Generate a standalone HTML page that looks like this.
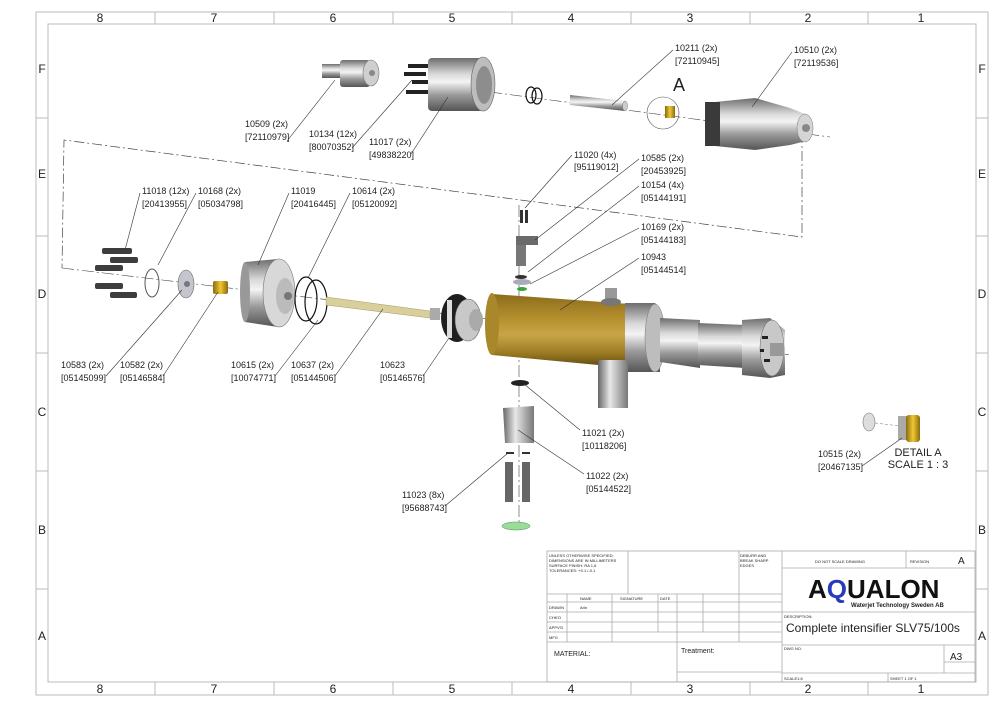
<!DOCTYPE html>
<html><head><meta charset="utf-8"><style>
html,body{margin:0;padding:0;background:#fff;}
svg{display:block;}
text{font-family:"Liberation Sans",sans-serif;fill:#222;}
.l{font-size:9px;}
.ld{stroke:#333;stroke-width:0.6;fill:none;}
.fr{stroke:#bbb;fill:none;stroke-width:1;}
.tb{stroke:#aaa;fill:none;stroke-width:0.8;}
.s{font-size:4px;fill:#555;}
</style></head><body>
<svg width="1000" height="707" viewBox="0 0 1000 707" xmlns="http://www.w3.org/2000/svg">
<defs>
<linearGradient id="st" x1="0" y1="0" x2="0" y2="1"><stop offset="0" stop-color="#6d6d6d"/><stop offset="0.3" stop-color="#d8d8d8"/><stop offset="0.45" stop-color="#f4f4f4"/><stop offset="0.7" stop-color="#9a9a9a"/><stop offset="1" stop-color="#555"/></linearGradient>
<linearGradient id="br" x1="0" y1="0" x2="0" y2="1"><stop offset="0" stop-color="#8c6c1c"/><stop offset="0.35" stop-color="#b7922f"/><stop offset="0.55" stop-color="#c9a548"/><stop offset="0.8" stop-color="#9a7a22"/><stop offset="1" stop-color="#5a4510"/></linearGradient>
<linearGradient id="stv" x1="0" y1="0" x2="1" y2="0"><stop offset="0" stop-color="#666"/><stop offset="0.4" stop-color="#e8e8e8"/><stop offset="1" stop-color="#777"/></linearGradient>
<linearGradient id="gd" x1="0" y1="0" x2="1" y2="0"><stop offset="0" stop-color="#8a6a10"/><stop offset="0.5" stop-color="#f0c830"/><stop offset="1" stop-color="#8a6a10"/></linearGradient>
</defs>
<!-- frame -->
<rect x="36" y="12" width="952" height="683" class="fr"/>
<rect x="48" y="24" width="928" height="658" class="fr"/>
<g class="fr">
<line x1="155" y1="12" x2="155" y2="24"/><line x1="274" y1="12" x2="274" y2="24"/><line x1="393" y1="12" x2="393" y2="24"/><line x1="512" y1="12" x2="512" y2="24"/><line x1="631" y1="12" x2="631" y2="24"/><line x1="750" y1="12" x2="750" y2="24"/><line x1="868" y1="12" x2="868" y2="24"/>
<line x1="155" y1="682" x2="155" y2="695"/><line x1="274" y1="682" x2="274" y2="695"/><line x1="393" y1="682" x2="393" y2="695"/><line x1="512" y1="682" x2="512" y2="695"/><line x1="631" y1="682" x2="631" y2="695"/><line x1="750" y1="682" x2="750" y2="695"/><line x1="868" y1="682" x2="868" y2="695"/>
<line x1="36" y1="118" x2="48" y2="118"/><line x1="36" y1="236" x2="48" y2="236"/><line x1="36" y1="353" x2="48" y2="353"/><line x1="36" y1="471" x2="48" y2="471"/><line x1="36" y1="589" x2="48" y2="589"/>
<line x1="976" y1="118" x2="988" y2="118"/><line x1="976" y1="236" x2="988" y2="236"/><line x1="976" y1="353" x2="988" y2="353"/><line x1="976" y1="471" x2="988" y2="471"/><line x1="976" y1="589" x2="988" y2="589"/>
</g>
<g font-size="12" text-anchor="middle">
<text x="100" y="22">8</text><text x="214" y="22">7</text><text x="333" y="22">6</text><text x="452" y="22">5</text><text x="571" y="22">4</text><text x="690" y="22">3</text><text x="808" y="22">2</text><text x="921" y="22">1</text>
<text x="100" y="693">8</text><text x="214" y="693">7</text><text x="333" y="693">6</text><text x="452" y="693">5</text><text x="571" y="693">4</text><text x="690" y="693">3</text><text x="808" y="693">2</text><text x="921" y="693">1</text>
<text x="42" y="73">F</text><text x="42" y="178">E</text><text x="42" y="298">D</text><text x="42" y="416">C</text><text x="42" y="534">B</text><text x="42" y="640">A</text>
<text x="982" y="73">F</text><text x="982" y="178">E</text><text x="982" y="298">D</text><text x="982" y="416">C</text><text x="982" y="534">B</text><text x="982" y="640">A</text>
</g>

<!-- dashed outline -->
<polyline points="802,133 802,237 64,140 62,268" fill="none" stroke="#444" stroke-width="0.7" stroke-dasharray="10,3,2,3"/>
<!-- axes -->
<line x1="62" y1="268" x2="790" y2="355" stroke="#444" stroke-width="0.6" stroke-dasharray="12,3,2,3"/>
<line x1="490" y1="92" x2="830" y2="137" stroke="#444" stroke-width="0.6" stroke-dasharray="12,3,2,3"/>
<line x1="519" y1="205" x2="519" y2="530" stroke="#444" stroke-width="0.6" stroke-dasharray="12,3,2,3"/>

<!-- top row parts -->
<rect x="322" y="64" width="22" height="14" fill="url(#st)"/>
<rect x="340" y="60" width="30" height="27" rx="3" fill="url(#st)"/>
<ellipse cx="371" cy="73" rx="8" ry="13" fill="#cfcfcf" stroke="#777" stroke-width="0.6"/>
<circle cx="372" cy="73" r="3" fill="#888"/>
<g fill="#222"><rect x="408" y="64" width="20" height="4"/><rect x="404" y="72" width="22" height="4"/><rect x="412" y="80" width="16" height="4"/><rect x="406" y="90" width="22" height="4"/></g>
<rect x="428" y="58" width="55" height="53" rx="4" fill="url(#st)"/>
<ellipse cx="483" cy="84" rx="12" ry="27" fill="#bdbdbd" stroke="#666" stroke-width="0.6"/>
<ellipse cx="484" cy="85" rx="8" ry="19" fill="#8d8d8d"/>
<ellipse cx="531" cy="95" rx="5" ry="8" fill="none" stroke="#111" stroke-width="1.2"/>
<ellipse cx="537" cy="96" rx="5" ry="8" fill="none" stroke="#111" stroke-width="1.2"/>
<path d="M570,95 L625,101 L625,111 L570,105 Z" fill="url(#st)"/>
<ellipse cx="625" cy="106" rx="2.5" ry="5" fill="#ccc" stroke="#777" stroke-width="0.5"/>
<circle cx="663" cy="113" r="16" fill="none" stroke="#555" stroke-width="0.6"/>
<rect x="665" y="106" width="10" height="12" fill="url(#gd)"/>
<text x="673" y="91" font-size="18">A</text>
<path d="M705,103 L755,98 L790,108 L810,116 L810,140 L790,145 L755,150 L705,145 Z" fill="url(#st)"/>
<rect x="705" y="102" width="15" height="44" fill="#3a3a3a"/>
<ellipse cx="805" cy="128" rx="8" ry="14" fill="#d5d5d5" stroke="#777" stroke-width="0.5"/>
<circle cx="806" cy="128" r="4" fill="#888"/>

<!-- left row parts -->
<g fill="#3d3d3d">
<rect x="102" y="248" width="30" height="6" rx="2"/><rect x="110" y="257" width="28" height="6" rx="2"/><rect x="95" y="265" width="28" height="6" rx="2"/>
<rect x="95" y="283" width="28" height="6" rx="2"/><rect x="110" y="292" width="27" height="6" rx="2"/>
</g>
<ellipse cx="152" cy="283" rx="7" ry="14" fill="none" stroke="#555" stroke-width="1"/>
<ellipse cx="186" cy="284" rx="8" ry="14" fill="#c5c5d0" stroke="#666" stroke-width="0.6"/>
<circle cx="187" cy="284" r="3" fill="#777"/>
<rect x="213" y="281" width="15" height="13" rx="2" fill="url(#gd)"/>
<path d="M245,262 L278,259 L278,327 L245,322 Z" fill="url(#st)"/>
<ellipse cx="245" cy="292" rx="5" ry="30" fill="#999"/>
<ellipse cx="279" cy="293" rx="16" ry="34" fill="#d8d8d8" stroke="#777" stroke-width="0.6"/>
<ellipse cx="285" cy="296" rx="9" ry="18" fill="#bbb"/>
<circle cx="288" cy="296" r="4" fill="#777"/>
<ellipse cx="306" cy="299" rx="11" ry="22" fill="none" stroke="#111" stroke-width="1.2"/>
<ellipse cx="316" cy="302" rx="11" ry="22" fill="none" stroke="#111" stroke-width="1.2"/>
<path d="M326,297 L430,311 L430,318 L326,305 Z" fill="#d9cf9c" stroke="#a89c60" stroke-width="0.5"/>
<rect x="430" y="308" width="10" height="12" fill="#aaa"/>
<ellipse cx="457" cy="318" rx="16" ry="24" fill="#1f1f1f"/>
<ellipse cx="468" cy="320" rx="13" ry="21" fill="#c8c8c8" stroke="#555" stroke-width="0.6"/>
<ellipse cx="476" cy="320" rx="7" ry="11" fill="#aaa"/>
<rect x="447" y="300" width="5" height="38" fill="#ddd"/>

<!-- main body -->
<path d="M492,294 L630,304 L630,368 L492,355 Z" fill="url(#br)"/>
<ellipse cx="492" cy="324" rx="7" ry="31" fill="#a8882a"/>
<path d="M625,303 L655,303 L660,309 L660,372 L625,372 Z" fill="url(#st)"/>
<ellipse cx="655" cy="338" rx="10" ry="34" fill="#bdbdbd" stroke="#777" stroke-width="0.5"/>
<path d="M660,318 L700,320 L700,368 L660,362 Z" fill="url(#st)"/>
<path d="M698,323 L745,325 L745,368 L698,365 Z" fill="url(#st)"/>
<path d="M742,320 L770,318 L785,330 L785,375 L770,378 L742,375 Z" fill="url(#st)"/>
<ellipse cx="772" cy="348" rx="12" ry="28" fill="#c8c8c8" stroke="#666" stroke-width="0.5"/>
<rect x="770" y="343" width="14" height="13" fill="#999"/>
<g fill="#222"><rect x="762" y="336" width="6" height="3"/><rect x="764" y="359" width="6" height="3"/><rect x="760" y="349" width="4" height="3"/></g>
<rect x="598" y="360" width="30" height="48" fill="url(#stv)"/>
<rect x="605" y="288" width="12" height="14" fill="#999"/>
<ellipse cx="611" cy="302" rx="10" ry="4" fill="#777"/>

<!-- vertical parts -->
<rect x="520" y="210" width="3" height="13" fill="#333"/><rect x="525" y="210" width="3" height="13" fill="#333"/>
<rect x="516" y="236" width="10" height="30" fill="#777"/>
<rect x="516" y="236" width="22" height="9" fill="#6a6a6a"/>
<ellipse cx="521" cy="277" rx="6" ry="2" fill="#333"/>
<ellipse cx="522" cy="282" rx="9" ry="3" fill="#aab"/>
<ellipse cx="522" cy="289" rx="5" ry="2" fill="#3a3"/>
<ellipse cx="520" cy="383" rx="9" ry="3" fill="#222"/>
<path d="M503,408 L534,406 L534,443 L505,443 Z" fill="url(#stv)"/>
<g fill="#333"><rect x="506" y="452" width="8" height="2"/><rect x="522" y="452" width="8" height="2"/></g>
<rect x="505" y="462" width="8" height="40" fill="#666"/><rect x="522" y="462" width="8" height="40" fill="#666"/>
<ellipse cx="516" cy="526" rx="14" ry="4" fill="#9d9" stroke="#585" stroke-width="0.5"/>

<!-- detail A -->
<ellipse cx="869" cy="422" rx="6" ry="9" fill="#ddd" stroke="#777" stroke-width="0.6"/>
<line x1="875" y1="423" x2="900" y2="426" stroke="#777" stroke-width="0.5" stroke-dasharray="3,2"/>
<rect x="898" y="416" width="10" height="24" fill="#aaa"/>
<rect x="906" y="415" width="14" height="27" rx="3" fill="url(#gd)"/>
<text x="918" y="456" font-size="11" text-anchor="middle">DETAIL A</text>
<text x="918" y="468" font-size="11" text-anchor="middle">SCALE 1 : 3</text>

<!-- leaders -->
<g class="ld">
<path d="M287,141 L335,80"/><path d="M352,148 L412,80"/><path d="M411,154 L448,97"/>
<path d="M673,50 L612,105"/><path d="M792,52 L752,107"/>
<path d="M572,155 L525,208"/><path d="M639,159 L535,240"/><path d="M639,186 L528,272"/><path d="M639,228 L530,284"/><path d="M639,258 L560,310"/>
<path d="M140,193 L125,250"/><path d="M196,193 L158,265"/><path d="M289,193 L258,265"/><path d="M350,193 L308,278"/>
<path d="M106,376 L182,290"/><path d="M163,376 L218,292"/><path d="M275,376 L318,320"/><path d="M335,376 L383,309"/><path d="M423,376 L449,338"/>
<path d="M580,430 L524,384"/><path d="M584,474 L518,430"/><path d="M445,506 L508,453"/><path d="M862,466 L902,438"/>
</g>
<g class="l">
<text x="245" y="127">10509 (2x)</text><text x="245" y="140">[72110979]</text>
<text x="309" y="137">10134 (12x)</text><text x="309" y="150">[80070352]</text>
<text x="369" y="145">11017 (2x)</text><text x="369" y="158">[49838220]</text>
<text x="675" y="51">10211 (2x)</text><text x="675" y="64">[72110945]</text>
<text x="794" y="53">10510 (2x)</text><text x="794" y="66">[72119536]</text>
<text x="574" y="158">11020 (4x)</text><text x="574" y="170">[95119012]</text>
<text x="641" y="161">10585 (2x)</text><text x="641" y="174">[20453925]</text>
<text x="641" y="188">10154 (4x)</text><text x="641" y="201">[05144191]</text>
<text x="641" y="230">10169 (2x)</text><text x="641" y="243">[05144183]</text>
<text x="641" y="260">10943</text><text x="641" y="273">[05144514]</text>
<text x="142" y="194">11018 (12x)</text><text x="142" y="207">[20413955]</text>
<text x="198" y="194">10168 (2x)</text><text x="198" y="207">[05034798]</text>
<text x="291" y="194">11019</text><text x="291" y="207">[20416445]</text>
<text x="352" y="194">10614 (2x)</text><text x="352" y="207">[05120092]</text>
<text x="61" y="368">10583 (2x)</text><text x="61" y="381">[05145099]</text>
<text x="120" y="368">10582 (2x)</text><text x="120" y="381">[05146584]</text>
<text x="231" y="368">10615 (2x)</text><text x="231" y="381">[10074771]</text>
<text x="291" y="368">10637 (2x)</text><text x="291" y="381">[05144506]</text>
<text x="380" y="368">10623</text><text x="380" y="381">[05146576]</text>
<text x="582" y="436">11021 (2x)</text><text x="582" y="449">[10118206]</text>
<text x="586" y="479">11022 (2x)</text><text x="586" y="492">[05144522]</text>
<text x="402" y="498">11023 (8x)</text><text x="402" y="511">[95688743]</text>
<text x="818" y="457">10515 (2x)</text><text x="818" y="470">[20467135]</text>
</g>

<!-- title block -->
<g class="tb">
<rect x="547" y="551" width="428" height="131"/>
<line x1="628" y1="551" x2="628" y2="594"/><line x1="739" y1="551" x2="739" y2="642"/><line x1="782" y1="551" x2="782" y2="682"/>
<line x1="547" y1="594" x2="782" y2="594"/><line x1="547" y1="602" x2="782" y2="602"/><line x1="547" y1="612" x2="782" y2="612"/><line x1="547" y1="622" x2="782" y2="622"/><line x1="547" y1="632" x2="782" y2="632"/><line x1="547" y1="642" x2="782" y2="642"/>
<line x1="567" y1="594" x2="567" y2="642"/><line x1="612" y1="594" x2="612" y2="642"/><line x1="658" y1="594" x2="658" y2="632"/><line x1="677" y1="594" x2="677" y2="682"/><line x1="703" y1="594" x2="703" y2="632"/>
<line x1="677" y1="672" x2="782" y2="672"/>
<line x1="782" y1="568" x2="975" y2="568"/><line x1="906" y1="551" x2="906" y2="568"/>
<line x1="782" y1="612" x2="975" y2="612"/><line x1="782" y1="645" x2="975" y2="645"/><line x1="782" y1="673" x2="975" y2="673"/>
<line x1="944" y1="645" x2="944" y2="673"/><line x1="944" y1="662" x2="975" y2="662"/><line x1="888" y1="673" x2="888" y2="682"/>
</g>
<g class="s">
<text x="549" y="557">UNLESS OTHERWISE SPECIFIED:</text><text x="549" y="562">DIMENSIONS ARE IN MILLIMETERS</text><text x="549" y="567">SURFACE FINISH: RA 1,6</text><text x="549" y="572">TOLERANCES: +0.1 /-0.1</text>
<text x="740" y="557">DEBURR AND</text><text x="740" y="562">BREAK SHARP</text><text x="740" y="567">EDGES</text>
<text x="580" y="600">NAME</text><text x="620" y="600">SIGNATURE</text><text x="660" y="600">DATE</text>
<text x="549" y="609">DRAWN</text><text x="580" y="609">Arin</text><text x="549" y="619">CHK'D</text><text x="549" y="629">APPV'D</text><text x="549" y="639">MFG</text>
<text x="815" y="563">DO NOT SCALE DRAWING</text><text x="910" y="563">REVISION</text>
<text x="784" y="618">DESCRIPTION:</text><text x="784" y="650">DWG NO.</text><text x="784" y="680">SCALE1:6</text><text x="890" y="680">SHEET 1 OF 1</text>
</g>
<text x="958" y="564" font-size="10">A</text>
<text x="554" y="656" font-size="7">MATERIAL:</text>
<text x="681" y="653" font-size="7">Treatment:</text>
<text x="950" y="660" font-size="10">A3</text>
<text x="786" y="632" font-size="12">Complete intensifier SLV75/100s</text>
<text x="808" y="598" font-size="26" font-weight="bold" fill="#111" style="fill:#111">A<tspan style="fill:#2a3ab8">Q</tspan>UALON</text>
<text x="851" y="607" font-size="6" font-weight="bold">Waterjet Technology Sweden AB</text>
</svg>
</body></html>
